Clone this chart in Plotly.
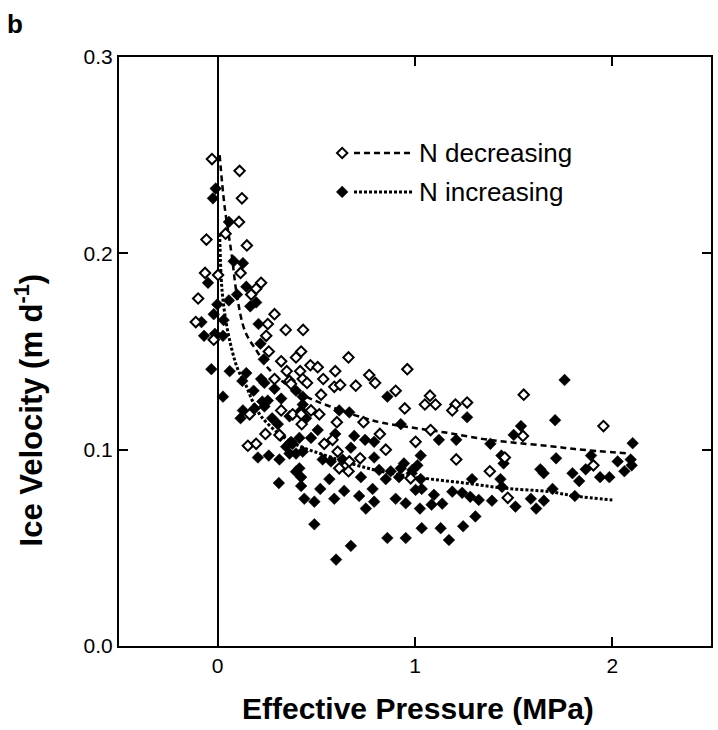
import plotly.graph_objects as go

# ---- observations: N decreasing (open diamonds) ----
dec_x = [-0.029, 0.111, 0.123, 0.108, 0.040, -0.057, 0.148, -0.064, 0.002, 0.116,
         0.220, 0.195, 0.170, -0.099, 0.288, -0.111, 0.254, 0.345, 0.433, 0.246,
         -0.020, 0.259, 0.423, 0.397, 0.322, 0.350, 0.418, 0.288, 0.364, 0.431,
         0.162, 0.322, 0.380, 0.426, 0.242, 0.153, 0.195, 0.372, 0.453, 0.591,
         0.621, 0.700, 0.798, 0.902, 0.948, 0.524, 0.473, 0.515, 0.423, 0.604,
         0.739, 0.313, 0.822, 0.540, 0.582, 0.852, 1.003, 0.608, 0.722, 0.667,
         0.663, 0.616, 0.978, 0.663, 0.470, 0.507, 0.596, 0.961, 0.768, 0.535,
         1.076, 1.050, 1.104, 1.205, 1.189, 1.264, 1.551, 1.079, 1.209, 1.455,
         1.379, 1.470, 1.955, 1.547, 1.904]
dec_y = [0.248, 0.242, 0.228, 0.216, 0.210, 0.207, 0.204, 0.190, 0.189, 0.190,
         0.185, 0.182, 0.179, 0.177, 0.169, 0.165, 0.164, 0.161, 0.161, 0.158,
         0.156, 0.150, 0.150, 0.147, 0.145, 0.140, 0.140, 0.136, 0.135, 0.136,
         0.118, 0.120, 0.118, 0.113, 0.108, 0.102, 0.103, 0.1335, 0.134, 0.132,
         0.133, 0.1326, 0.134, 0.130, 0.121, 0.128, 0.120, 0.118, 0.118, 0.114,
         0.114, 0.1075, 0.108, 0.103, 0.105, 0.100, 0.104, 0.099, 0.0956, 0.094,
         0.089, 0.0905, 0.0854, 0.147, 0.143, 0.142, 0.140, 0.141, 0.138, 0.136,
         0.1275, 0.123, 0.123, 0.123, 0.120, 0.124, 0.128, 0.110, 0.095, 0.096,
         0.089, 0.0755, 0.112, 0.107, 0.092]

# ---- observations: N increasing (filled diamonds) ----
inc_x = [-0.010, -0.024, 0.057, 0.081, 0.128, -0.049, 0.145, 0.098, -0.002, 0.057,
         0.195, 0.165, -0.020, 0.030, -0.082, 0.207, -0.069, -0.014, 0.027, 0.217,
         0.234, -0.032, 0.061, 0.145, 0.220, 0.125, 0.237, 0.288, 0.027, 0.182,
         0.397, 0.254, 0.322, 0.431, 0.128, 0.187, 0.116, 0.237, 0.276, 0.423,
         0.305, 0.448, 0.318, 0.372, 0.414, 0.347, 0.204, 0.259, 0.397, 0.860,
         0.226, 0.431, 0.364, 0.616, 0.667, 0.928, 0.507, 0.473, 0.596, 0.692,
         0.747, 0.793, 0.380, 0.675, 0.793, 0.313, 0.364, 0.431, 0.532, 0.574,
         0.633, 0.414, 0.818, 0.877, 0.928, 0.987, 0.423, 0.566, 0.726, 0.852,
         0.919, 0.310, 0.423, 0.520, 0.641, 0.785, 1.003, 0.439, 0.490, 0.591,
         0.717, 0.793, 0.902, 0.953, 0.751, 0.490, 0.860, 0.953, 0.600, 0.675,
         1.034, 1.130, 1.172, 1.244, 1.306, 1.121, 1.209, 1.382, 1.500, 1.438,
         1.449, 1.289, 1.433, 1.189, 1.239, 1.280, 1.323, 1.390, 1.509, 1.096,
         1.138, 1.025, 1.264, 1.710, 1.537, 1.029, 1.715, 1.635, 0.944, 1.012,
         0.983, 1.029, 1.441, 1.697, 1.034, 1.587, 1.653, 1.084, 1.614, 1.758,
         2.103, 1.892, 1.865, 2.027, 2.093, 2.098, 2.061, 1.652, 1.798, 1.832,
         1.938, 1.985, 1.810, 0.397]
inc_y = [0.233, 0.228, 0.216, 0.196, 0.195, 0.185, 0.183, 0.179, 0.174, 0.176,
         0.175, 0.173, 0.169, 0.166, 0.165, 0.164, 0.158, 0.159, 0.158, 0.154,
         0.146, 0.141, 0.140, 0.139, 0.136, 0.135, 0.134, 0.131, 0.127, 0.130,
         0.130, 0.125, 0.126, 0.127, 0.120, 0.121, 0.116, 0.122, 0.116, 0.120,
         0.113, 0.116, 0.107, 0.104, 0.106, 0.1015, 0.096, 0.097, 0.098, 0.127,
         0.1245, 0.123, 0.117, 0.120, 0.119, 0.113, 0.110, 0.106, 0.108, 0.107,
         0.105, 0.104, 0.103, 0.101, 0.096, 0.095, 0.098, 0.099, 0.095, 0.094,
         0.095, 0.0905, 0.0897, 0.089, 0.0905, 0.0897, 0.086, 0.085, 0.086, 0.085,
         0.086, 0.083, 0.0815, 0.080, 0.079, 0.080, 0.0795, 0.075, 0.0735, 0.075,
         0.0764, 0.0735, 0.075, 0.0727, 0.070, 0.062, 0.055, 0.055, 0.044, 0.051,
         0.060, 0.060, 0.054, 0.061, 0.066, 0.105, 0.105, 0.103, 0.1075, 0.097,
         0.093, 0.085, 0.085, 0.0786, 0.078, 0.076, 0.0744, 0.074, 0.071, 0.077,
         0.0725, 0.070, 0.1165, 0.115, 0.112, 0.097, 0.0956, 0.090, 0.093, 0.092,
         0.088, 0.085, 0.081, 0.080, 0.080, 0.075, 0.074, 0.072, 0.070, 0.1355,
         0.1033, 0.097, 0.090, 0.094, 0.095, 0.092, 0.089, 0.088, 0.088, 0.084,
         0.086, 0.086, 0.0764, 0.0888]

# ---- fitted trends ----
fit_dec_x = [0.01, 0.035, 0.07, 0.10, 0.14, 0.20, 0.26, 0.41, 0.57, 0.80,
             1.00, 1.17, 1.34, 1.46, 1.71, 1.81, 2.09]
fit_dec_y = [0.250, 0.224, 0.200, 0.177, 0.160, 0.150, 0.141, 0.129, 0.122, 0.1145,
             0.111, 0.1085, 0.1055, 0.104, 0.1015, 0.1003, 0.098]
fit_inc_x = [0.01, 0.02, 0.035, 0.06, 0.10, 0.14, 0.18, 0.22, 0.30, 0.40,
             0.54, 0.70, 0.85, 1.05, 1.26, 1.46, 1.68, 1.81, 2.00]
fit_inc_y = [0.210, 0.184, 0.170, 0.156, 0.1415, 0.1335, 0.124, 0.117, 0.109, 0.1025,
             0.0973, 0.0922, 0.0885, 0.0854, 0.0829, 0.0803, 0.0786, 0.0764, 0.0744]

x_ticks = [0, 1, 2]
y_ticks = [0.0, 0.1, 0.2, 0.3]
series_names = ["N decreasing", "N increasing"]

FONT = "Liberation Sans, Arial, Helvetica, sans-serif"

open_marker = dict(symbol="diamond", size=8, color="white",
                   line=dict(color="black", width=2))
filled_marker = dict(symbol="diamond", size=9, color="black",
                     line=dict(color="black", width=0.5))
dashed_line = dict(color="black", width=2.5, dash="6px,4px")
dotted_line = dict(color="black", width=3, dash="3px,2px")

fig = go.Figure()

fig.add_trace(go.Scatter(x=fit_dec_x, y=fit_dec_y, mode="lines", line_shape="spline",
                         line=dashed_line, showlegend=False))
fig.add_trace(go.Scatter(x=fit_inc_x, y=fit_inc_y, mode="lines", line_shape="spline",
                         line=dotted_line, showlegend=False))

fig.add_trace(go.Scatter(x=inc_x, y=inc_y, mode="markers", name=series_names[1],
                         marker=filled_marker, showlegend=False))
fig.add_trace(go.Scatter(x=dec_x, y=dec_y, mode="markers", name=series_names[0],
                         marker=open_marker, showlegend=False))

# key drawn on an overlay axis spanning the plot area (0..1 each way)
key_rows = [0.837, 0.771]
key_marker_x = 0.377
key_line_x = [0.397, 0.495]
key_text_x = 0.503
key_styles = [(open_marker, dashed_line), (filled_marker, dotted_line)]
for row_y, (mk, ln), name in zip(key_rows, key_styles, series_names):
    fig.add_trace(go.Scatter(x=key_line_x, y=[row_y, row_y], mode="lines", line=ln,
                             xaxis="x2", yaxis="y2", showlegend=False, hoverinfo="skip"))
    fig.add_trace(go.Scatter(x=[key_marker_x], y=[row_y], mode="markers", marker=mk,
                             xaxis="x2", yaxis="y2", showlegend=False, hoverinfo="skip"))
    fig.add_annotation(x=key_text_x, y=row_y, xref="x2", yref="y2", text=name,
                       showarrow=False, xanchor="left", yanchor="middle",
                       font=dict(family=FONT, size=26, color="black"))

axis_common = dict(showline=True, linecolor="black", linewidth=2, mirror="ticks",
                   ticks="inside", ticklen=9, tickwidth=1.5, tickcolor="black",
                   showgrid=False, tickfont=dict(family=FONT, size=21, color="black"))

fig.update_layout(
    width=718, height=730,
    margin=dict(l=119, r=5, t=57, b=84),
    paper_bgcolor="white", plot_bgcolor="white",
    font=dict(family=FONT, color="black"),
    xaxis=dict(range=[-0.5, 2.5], tickvals=x_ticks, zeroline=True,
               zerolinecolor="black", zerolinewidth=1.5, **axis_common),
    yaxis=dict(range=[0, 0.3], tickvals=y_ticks, tickformat=".1f", zeroline=False,
               **axis_common),
    xaxis2=dict(range=[0, 1], overlaying="x", visible=False, fixedrange=True),
    yaxis2=dict(range=[0, 1], overlaying="y", visible=False, fixedrange=True),
)

fig.add_annotation(text="Effective Pressure (MPa)", xref="paper", yref="paper",
                   x=0.505, y=-0.074, xanchor="center", yanchor="top", showarrow=False,
                   font=dict(family=FONT, size=30, color="black", weight="bold"))
fig.add_annotation(text="Ice Velocity (m d<sup>-1</sup>)", xref="paper", yref="paper",
                   x=-0.152, y=0.40, xanchor="center", yanchor="middle", showarrow=False,
                   textangle=-90,
                   font=dict(family=FONT, size=31, color="black", weight="bold"))
fig.add_annotation(text="b", xref="paper", yref="paper", x=-0.192, y=1.085,
                   xanchor="left", yanchor="top", showarrow=False,
                   font=dict(family=FONT, size=26, color="black", weight="bold"))

fig.write_html("out.html")
